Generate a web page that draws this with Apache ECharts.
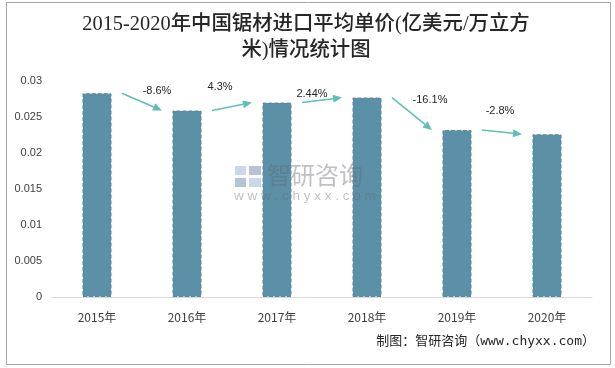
<!DOCTYPE html>
<html><head><meta charset="utf-8">
<script src="https://cdn.jsdelivr.net/npm/echarts@6/dist/echarts.min.js"></script>
<style>html,body{margin:0;padding:0;background:#fff}#c{width:615px;height:368px}</style>
</head><body><div id="c"></div>
<script>
const categories = ['2015年','2016年','2017年','2018年','2019年','2020年'];
const prices = [0.0283, 0.0259, 0.0270, 0.0277, 0.0232, 0.0226];
const changes = ['-8.6%','4.3%','2.44%','-16.1%','-2.8%'];
const yTicks = [0, 0.005, 0.01, 0.015, 0.02, 0.025, 0.03];
const titleLines = ['2015-2020年中国锯材进口平均单价(亿美元/万立方', '米)情况统计图'];

// label placement relative to arrow midpoint (style only)
const labelOffsets = [[15,-11],[-12,-20],[-10,-6],[18,-14],[-2,-21]];

const arrowData = changes.map((c,i)=>[i, prices[i], prices[i+1], c]);

const chart = echarts.init(document.getElementById('c'), null, {renderer:'canvas'});
const arrowColor = '#5fbfb6';
const titleFont = '"Liberation Serif","Noto Sans CJK SC",serif';
const wm = 'rgba(100,105,115,0.42)';
chart.setOption({
  animation:false,
  backgroundColor:'#fff',
  grid:{left:52,right:23,top:81,bottom:71},
  xAxis:{
    type:'category', data:categories,
    axisLine:{lineStyle:{color:'#d9d9d9'}},
    axisTick:{show:false},
    axisLabel:{color:'#404040',fontSize:12,margin:14,fontFamily:'"Noto Sans CJK SC",sans-serif'}
  },
  yAxis:{
    type:'value', min:0, max:yTicks[yTicks.length-1], interval:yTicks[1]-yTicks[0],
    axisLine:{show:false}, axisTick:{show:false},
    splitLine:{show:false},
    axisLabel:{color:'#404040',fontSize:11,margin:10,fontFamily:'"Liberation Sans",sans-serif',
      formatter:v=>String(+v.toFixed(3))}
  },
  series:[
    {type:'bar', data:prices, barWidth:29,
     itemStyle:{color:'#5b90a6',borderColor:'#55899f',borderWidth:1,borderType:'dashed'}},
    {type:'custom', data:arrowData, clip:false, z:5,
     renderItem:function(params, api){
       const i = api.value(0);
       const p0 = api.coord([i, api.value(1)]);
       const p1 = api.coord([i+1, api.value(2)]);
       const x0 = p0[0]+25, y0 = p0[1];
       const x1 = p1[0]-25, y1 = p1[1];
       const dx = x1-x0, dy = y1-y0, L = Math.sqrt(dx*dx+dy*dy);
       const ux = dx/L, uy = dy/L;
       const hl = 9, hw = 4;
       const bx = x1-ux*hl, by = y1-uy*hl;
       const off = labelOffsets[params.dataIndex];
       return {type:'group', children:[
         {type:'line', shape:{x1:x0,y1:y0,x2:bx,y2:by}, style:{stroke:arrowColor,lineWidth:1.5}},
         {type:'polygon', shape:{points:[[x1,y1],[bx-uy*hw,by+ux*hw],[bx+uy*hw,by-ux*hw]]}, style:{fill:arrowColor}},
         {type:'text', style:{text:arrowData[params.dataIndex][3], x:(x0+x1)/2+off[0], y:(y0+y1)/2+off[1],
           align:'center', verticalAlign:'middle', fill:'#262626', fontSize:11, fontFamily:'"Liberation Sans",sans-serif'}}
       ]};
     }}
  ],
  graphic:[
    {type:'rect', shape:{x:6.5,y:2.5,width:604,height:362}, style:{fill:null,stroke:'#a6a6a6',lineWidth:1}, z:-1},
    {type:'text', x:306, y:25, style:{text:titleLines[0], align:'center', verticalAlign:'middle', fill:'#262626', fontSize:20.4, fontWeight:500, fontFamily:titleFont}},
    {type:'text', x:306, y:51, style:{text:titleLines[1], align:'center', verticalAlign:'middle', fill:'#262626', fontSize:20.4, fontWeight:500, fontFamily:titleFont}},
    {type:'rect', z:100, shape:{x:235,y:166,width:11,height:9}, style:{fill:'rgba(150,175,215,0.5)'}},
    {type:'rect', z:100, shape:{x:249,y:166,width:12,height:9}, style:{fill:'rgba(110,135,175,0.5)'}},
    {type:'rect', z:100, shape:{x:235,y:178,width:11,height:9}, style:{fill:'rgba(110,135,175,0.5)'}},
    {type:'rect', z:100, shape:{x:249,y:178,width:12,height:9}, style:{fill:'rgba(150,175,215,0.5)'}},
    {type:'text', z:100, x:267, y:163, style:{text:'智研咨询', fill:wm, fontSize:24, fontFamily:'"Noto Sans CJK SC",sans-serif'}},
    {type:'text', z:100, x:234, y:189, style:{text:'w w w . c h y x x . c o m', fill:wm, fontSize:13.5, fontFamily:'"Liberation Sans",sans-serif'}},
    {type:'text', right:20, top:335, style:{text:'制图：智研咨询（www.chyxx.com）', fill:'#262626', fontSize:13,
      fontFamily:'"DejaVu Sans Mono","Noto Sans CJK SC",monospace'}}
  ]
});
</script></body></html>
